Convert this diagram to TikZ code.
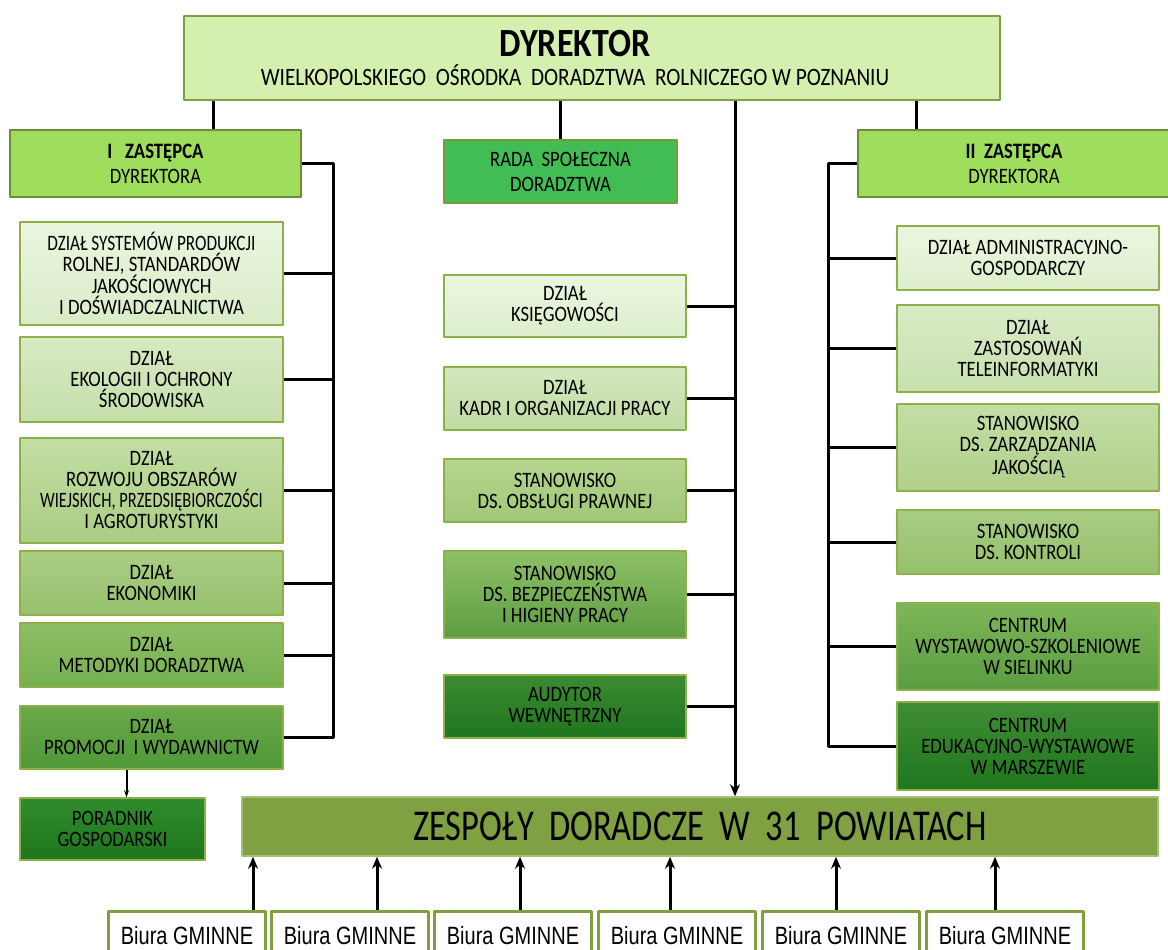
\documentclass[tikz,border=0pt]{standalone}
\usepackage{fontspec}
\usepackage{graphicx}
\setmainfont{Carlito}[FakeStretch=0.85]
\newfontfamily\biura{Liberation Sans}[FakeStretch=0.8]
\usetikzlibrary{arrows.meta}
\definecolor{ramka}{HTML}{8DB04B}
\definecolor{dyrfill}{HTML}{D4EFAE}
\definecolor{dyrramka}{HTML}{7F9F47}
\definecolor{zastfill}{HTML}{9FDE5C}
\definecolor{zastramka}{HTML}{6E8B3D}
\definecolor{radafill}{HTML}{42BD56}
\definecolor{radaramka}{HTML}{7A9B3A}
\definecolor{zespfill}{HTML}{7FA142}
\definecolor{zespramka}{HTML}{A6C07A}
\definecolor{gminaramka}{HTML}{7E9F3E}
\begin{document}
\begin{tikzpicture}[x=1pt,y=-1pt,>={Stealth[length=12pt,width=10pt]},line join=round,
  font=\fontsize{22}{21}\selectfont,
  dz/.style 2 args={draw=ramka,line width=1.5pt,/utils/exec={\definecolor{gora}{HTML}{#1}\definecolor{dol}{HTML}{#2}},top color=gora,bottom color=dol,align=center,inner sep=1pt},
  zast/.style={draw=zastramka,line width=2pt,fill=zastfill,align=center},
  linia/.style={line width=3pt},
  gmina/.style={draw=gminaramka,line width=3pt,fill=white,minimum width=157,minimum height=49,inner sep=0pt,font=\biura\fontsize{25}{25}\selectfont}]
\useasboundingbox (0,0) rectangle (1168,950);
\node[draw=dyrramka,line width=1.5pt,fill=dyrfill,minimum width=816,minimum height=84,align=center] (dyr) at (592,58)
  {{\fontsize{40}{40}\selectfont\bfseries DYREKTOR\hspace*{34pt}}\\[7pt]{\fontsize{25}{25}\selectfont WIELKOPOLSKIEGO\ \ OŚRODKA\ \ DORADZTWA\ \ ROLNICZEGO\ W\ POZNANIU\hspace*{34pt}}};
\node[zast,minimum width=291,minimum height=67] (z1) at (155.5,163.5) {\bfseries I\ \ \ ZASTĘPCA\\[4pt]DYREKTORA};
\node[draw=radaramka,line width=2.5pt,fill=radafill,minimum width=233,minimum height=63,align=center] (rada) at (560.5,171.5) {RADA\ \ SPOŁECZNA\\[4pt]DORADZTWA};
\node[zast,minimum width=312,minimum height=67] (z2) at (1014,163.5) {\bfseries II\ \ ZASTĘPCA\\[4pt]DYREKTORA};
\node[dz={EAF6DF}{D9ECC8},minimum width=263,minimum height=103] (sys) at (151.5,273.5) {\scalebox{0.92}[1]{DZIAŁ SYSTEMÓW PRODUKCJI}\\ROLNEJ,\ STANDARDÓW\\JAKOŚCIOWYCH\\I DOŚWIADCZALNICTWA};
\node[dz={D7EAC3}{C5DFAA},minimum width=263,minimum height=85] (eko) at (151.5,379.5) {DZIAŁ\\EKOLOGII I OCHRONY\\ŚRODOWISKA};
\node[dz={C3DEA3}{AACD83},minimum width=263,minimum height=105] (roz) at (151.5,490.5) {DZIAŁ\\ROZWOJU OBSZARÓW\\\scalebox{0.88}[1]{WIEJSKICH, PRZEDSIĘBIORCZOŚCI}\\I AGROTURYSTYKI};
\node[dz={ABCE85}{96C16C},minimum width=263,minimum height=64] (ekon) at (151.5,583) {DZIAŁ\\EKONOMIKI};
\node[dz={8DBF65}{75B04F},minimum width=263,minimum height=64] (met) at (151.5,655) {DZIAŁ\\METODYKI DORADZTWA};
\node[dz={6BA94A}{4F9838},minimum width=263,minimum height=63] (prom) at (151.5,737.5) {DZIAŁ\\PROMOCJI\ \ I WYDAWNICTW};
\node[dz={2F8C2C}{1E761D},minimum width=185,minimum height=62] (por) at (112.5,829) {PORADNIK\\GOSPODARSKI};
\node[dz={EBF6E0}{DCEFCC},minimum width=242,minimum height=62] (ksieg) at (565,306) {DZIAŁ\\KSIĘGOWOŚCI};
\node[dz={D4E8BE}{C0DBA2},minimum width=242,minimum height=63] (kadr) at (565,398.5) {DZIAŁ\\KADR I ORGANIZACJI PRACY};
\node[dz={B6D58F}{A0C777},minimum width=242,minimum height=63] (praw) at (565,490.5) {STANOWISKO\\DS. OBSŁUGI PRAWNEJ};
\node[dz={8EC166}{5E9C42},minimum width=242,minimum height=87] (bhp) at (565,594.5) {STANOWISKO\\DS. BEZPIECZEŃSTWA\\I HIGIENY PRACY};
\node[dz={3C8B32}{1F761E},minimum width=242,minimum height=63] (aud) at (565,706.5) {AUDYTOR\\WEWNĘTRZNY};
\node[dz={EBF6E0}{DDEFCC},minimum width=262,minimum height=64] (adm) at (1028,258) {DZIAŁ ADMINISTRACYJNO-\\GOSPODARCZY};
\node[dz={D9EBC6}{C8E0AE},minimum width=262,minimum height=87] (tele) at (1028,348.5) {DZIAŁ\\ZASTOSOWAŃ\\TELEINFORMATYKI};
\node[dz={C4DEA5}{AFD08A},minimum width=262,minimum height=87] (jak) at (1028,447.5) {STANOWISKO\\DS. ZARZĄDZANIA\\JAKOŚCIĄ};
\node[dz={A9CD84}{94C06B},minimum width=262,minimum height=64] (kontr) at (1028,542) {STANOWISKO\\DS. KONTROLI};
\node[dz={7DB658}{5A9D40},minimum width=262,minimum height=87] (siel) at (1028,646.5) {CENTRUM\\WYSTAWOWO-SZKOLENIOWE\\W SIELINKU};
\node[dz={3F8D33}{1F761E},minimum width=262,minimum height=88] (marsz) at (1028,746) {CENTRUM\\EDUKACYJNO-WYSTAWOWE\\W MARSZEWIE};
\node[draw=zespramka,line width=1.5pt,fill=zespfill,minimum width=916,minimum height=59,font=\fontsize{44}{44}\selectfont] (zesp) at (700,826.5) {\scalebox{0.92}[1]{ZESPOŁY\ \ DORADCZE\ \ W\ \ 31\ \ POWIATACH}};
\foreach \i/\xc in {1/187,2/350,3/513,4/677,5/841,6/1005}
  \node[gmina] (b\i) at (\xc,935.5) {Biura GMINNE};
\draw[linia] ([xshift=58]z1.north) -- ([xshift=58]z1.north |- dyr.south);
\draw[linia] (rada.north) -- (rada.north |- dyr.south);
\draw[linia] ([xshift=-98]z2.north) -- ([xshift=-98]z2.north |- dyr.south);
\coordinate (pion) at ([xshift=143]dyr.south);
\draw[linia,->] (pion) -- (pion |- zesp.north);
\foreach \n in {ksieg,kadr,praw,bhp,aud}
  \draw[linia] (\n.east) -- (\n.east -| pion);
\draw[linia] (z1.east) -- ++(31,0) coordinate (lp) |- (prom.east);
\foreach \n in {sys,eko,roz,ekon,met}
  \draw[linia] (\n.east) -- (\n.east -| lp);
\draw[linia] (z2.west) -- ++(-29,0) coordinate (pp) |- (marsz.west);
\foreach \n in {adm,tele,jak,kontr,siel}
  \draw[linia] (\n.west) -- (\n.west -| pp);
\draw[line width=2pt,->,>={Stealth[length=7pt,width=5pt]}] ([xshift=-25]prom.south) -- ([xshift=-25]prom.south |- por.north);
\foreach \i/\dx in {1/66,2/27,3/7,4/-7,5/-5,6/-10}
  \draw[linia,->] ([xshift=\dx]b\i.north) -- ([xshift=\dx]b\i.north |- zesp.south);
\end{tikzpicture}
\end{document}
